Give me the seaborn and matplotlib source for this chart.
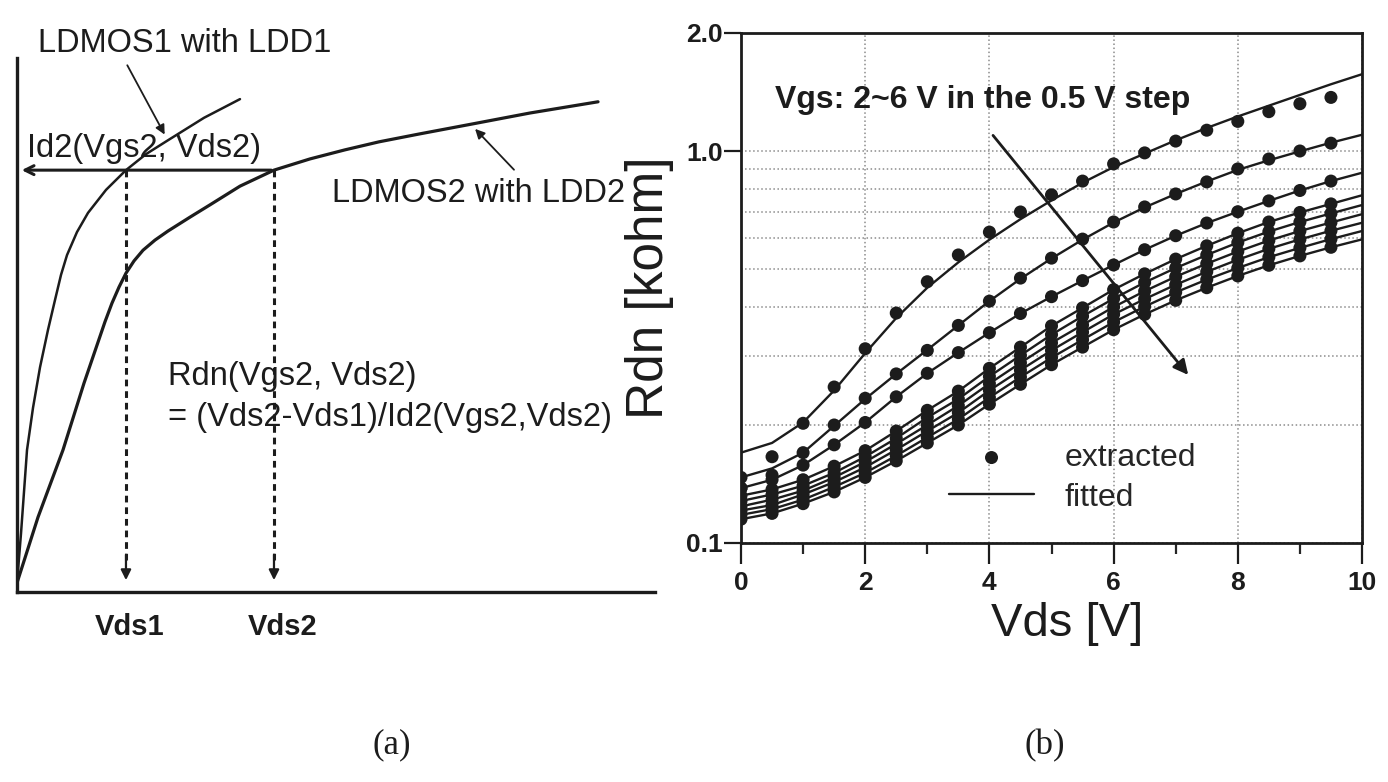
import matplotlib
matplotlib.use("Agg")
import matplotlib.pyplot as plt
import seaborn as sns
import pandas as pd
from matplotlib.ticker import FixedLocator, NullFormatter

INK = "#1c1c1c"

# ---- (b) Rdn vs Vds, Vgs = 2 ... 6 V in 0.5 V steps ----
vgs_levels = ["2.0", "2.5", "3.0", "3.5", "4.0", "4.5", "5.0", "5.5", "6.0"]
vds_fit = [0.0, 0.5, 1.0, 1.5, 2.0, 2.5, 3.0, 3.5, 4.0, 4.5, 5.0,
           5.5, 6.0, 6.5, 7.0, 7.5, 8.0, 8.5, 9.0, 9.5, 10.0]
vds_dots = [0.0, 0.5, 1.0, 1.5, 2.0, 2.5, 3.0, 3.5, 4.0, 4.5,
            5.0, 5.5, 6.0, 6.5, 7.0, 7.5, 8.0, 8.5, 9.0, 9.5]

# fitted curves [kohm]
fit_20 = [0.170, 0.180, 0.203, 0.245, 0.305, 0.375, 0.448, 0.520, 0.594, 0.670, 0.748,
          0.830, 0.910, 0.985, 1.065, 1.145, 1.225, 1.305, 1.390, 1.480, 1.570]
fit_25 = [0.147, 0.155, 0.170, 0.199, 0.233, 0.270, 0.311, 0.359, 0.414, 0.472, 0.532,
          0.594, 0.657, 0.718, 0.777, 0.836, 0.895, 0.947, 0.998, 1.050, 1.100]
fit_30 = [0.138, 0.145, 0.158, 0.178, 0.203, 0.236, 0.271, 0.306, 0.344, 0.385, 0.425,
          0.467, 0.512, 0.560, 0.608, 0.655, 0.700, 0.746, 0.793, 0.838, 0.880]
fit_35 = [0.132, 0.137, 0.145, 0.157, 0.172, 0.193, 0.218, 0.244, 0.279, 0.316, 0.358,
          0.398, 0.443, 0.486, 0.530, 0.573, 0.617, 0.659, 0.697, 0.733, 0.771]
fit_40 = [0.128, 0.133, 0.140, 0.151, 0.166, 0.185, 0.209, 0.233, 0.266, 0.301, 0.340,
          0.379, 0.420, 0.462, 0.503, 0.543, 0.584, 0.623, 0.659, 0.693, 0.728]
fit_45 = [0.124, 0.129, 0.136, 0.147, 0.161, 0.179, 0.200, 0.224, 0.255, 0.288, 0.324,
          0.360, 0.400, 0.439, 0.478, 0.516, 0.554, 0.591, 0.625, 0.657, 0.690]
fit_50 = [0.121, 0.125, 0.133, 0.143, 0.156, 0.173, 0.193, 0.215, 0.245, 0.276, 0.310,
          0.345, 0.383, 0.419, 0.456, 0.492, 0.528, 0.563, 0.595, 0.626, 0.656]
fit_55 = [0.118, 0.122, 0.129, 0.139, 0.151, 0.167, 0.186, 0.207, 0.235, 0.265, 0.297,
          0.330, 0.366, 0.401, 0.436, 0.470, 0.503, 0.536, 0.566, 0.596, 0.625]
fit_60 = [0.115, 0.119, 0.126, 0.135, 0.147, 0.162, 0.180, 0.200, 0.226, 0.254, 0.285,
          0.316, 0.350, 0.383, 0.416, 0.448, 0.480, 0.511, 0.540, 0.568, 0.595]

# extracted points (lower curves sit on their fits)
dots_20 = [0.147, 0.166, 0.202, 0.250, 0.313, 0.386, 0.464, 0.543, 0.621, 0.699,
           0.773, 0.838, 0.927, 0.989, 1.060, 1.130, 1.190, 1.260, 1.320, 1.370]
dots_25 = [0.138, 0.149, 0.170, 0.200, 0.234, 0.270, 0.310, 0.359, 0.414, 0.474,
           0.533, 0.596, 0.659, 0.720, 0.777, 0.834, 0.900, 0.954, 1.000, 1.047]

fits = [fit_20, fit_25, fit_30, fit_35, fit_40, fit_45, fit_50, fit_55, fit_60]
dots = [dots_20, dots_25] + [f[:len(vds_dots)] for f in fits[2:]]

fit_rows, dot_rows = [], []
for vgs, f, d in zip(vgs_levels, fits, dots):
    fit_rows += [(vgs, x, y) for x, y in zip(vds_fit, f)]
    dot_rows += [(vgs, x, y) for x, y in zip(vds_dots, d)]
df_fit = pd.DataFrame(fit_rows, columns=["Vgs", "Vds", "Rdn"])
df_dots = pd.DataFrame(dot_rows, columns=["Vgs", "Vds", "Rdn"])

# ---- (a) schematic Id-Vds of two LDMOS devices (arbitrary units) ----
ldmos1_vds = [0.0, 0.063, 0.157, 0.251, 0.361, 0.486, 0.596, 0.690, 0.784, 0.940,
              1.113, 1.395, 1.708, 2.022, 2.367, 2.931, 3.495]
ldmos1_id = [0.17, 1.10, 2.66, 3.45, 4.21, 4.91, 5.47, 5.94, 6.31, 6.74,
             7.10, 7.53, 7.90, 8.20, 8.46, 8.88, 9.23]
ldmos2_vds = [0.0, 0.329, 0.721, 1.050, 1.379, 1.489, 1.599, 1.708, 1.834, 1.975,
              2.163, 2.367, 2.712, 3.025, 3.495, 4.028, 4.592, 5.141, 5.674, 6.317,
              7.116, 8.041, 9.107]
ldmos2_id = [0.17, 1.40, 2.66, 3.91, 5.06, 5.41, 5.71, 5.97, 6.20, 6.40,
             6.59, 6.76, 7.02, 7.25, 7.60, 7.90, 8.11, 8.28, 8.43, 8.58,
             8.76, 8.97, 9.18]
vds1, vds2, id2 = 1.708, 4.028, 7.9

sns.set_style("ticks")
plt.rcParams["font.family"] = ["Liberation Sans", "DejaVu Sans"]

fig = plt.figure(figsize=(13.88, 7.82), dpi=100)

# ================= panel (a) =================
axa = fig.add_axes([17 / 1388, 1 - 592 / 782, 638 / 1388, 534 / 782])
sns.lineplot(x=ldmos1_vds, y=ldmos1_id, ax=axa, color=INK, lw=1.8, sort=False)
sns.lineplot(x=ldmos2_vds, y=ldmos2_id, ax=axa, color=INK, lw=2.3, sort=False)
axa.set_xlim(0, 10)
axa.set_ylim(0, 10)
axa.set_xticks([])
axa.set_yticks([])
for s in ["top", "right"]:
    axa.spines[s].set_visible(False)
for s in ["left", "bottom"]:
    axa.spines[s].set_linewidth(2.4)
    axa.spines[s].set_color(INK)

# Id2 level and projections onto the Vds axis
axa.annotate("", xy=(0.03, id2), xytext=(vds2, id2),
             arrowprops=dict(arrowstyle="->", lw=2.2, color=INK, mutation_scale=16))
axa.vlines([vds1, vds2], 0.6, id2, colors=INK, linestyles=(0, (2.2, 1.6)), lw=2.2)
for v in [vds1, vds2]:
    axa.annotate("", xy=(v, 0.17), xytext=(v, 0.75),
                 arrowprops=dict(arrowstyle="-|>", lw=1.6, color=INK, mutation_scale=15))

lab_fs = 23.5
axa.text(0.33, 10.28, "LDMOS1 with LDD1", fontsize=lab_fs, color=INK, va="center")
axa.annotate("", xy=(2.335, 8.52), xytext=(1.708, 9.91),
             arrowprops=dict(arrowstyle="-|>", lw=1.3, color=INK, mutation_scale=14))
axa.text(0.16, 8.3, "Id2(Vgs2, Vds2)", fontsize=lab_fs, color=INK, va="center")
axa.text(4.94, 7.47, "LDMOS2 with LDD2", fontsize=lab_fs, color=INK, va="center")
axa.annotate("", xy=(7.15, 8.71), xytext=(7.82, 7.87),
             arrowprops=dict(arrowstyle="-|>", lw=1.3, color=INK, mutation_scale=14))
axa.text(2.37, 4.03, "Rdn(Vgs2, Vds2)", fontsize=lab_fs, color=INK, va="center")
axa.text(2.37, 3.26, "= (Vds2-Vds1)/Id2(Vgs2,Vds2)", fontsize=lab_fs, color=INK,
         va="center")
axa.text(1.76, -0.66, "Vds1", fontsize=21, fontweight="bold", color=INK,
         ha="center", va="center")
axa.text(4.17, -0.66, "Vds2", fontsize=21, fontweight="bold", color=INK,
         ha="center", va="center")

# ================= panel (b) =================
axb = fig.add_axes([741 / 1388, 1 - 543 / 782, 621 / 1388, 510 / 782])
pal = [INK] * len(vgs_levels)
sns.lineplot(data=df_fit, x="Vds", y="Rdn", hue="Vgs", palette=pal, legend=False,
             ax=axb, lw=1.7, estimator=None)
sns.scatterplot(data=df_dots, x="Vds", y="Rdn", hue="Vgs", palette=pal, legend=False,
                ax=axb, s=88, edgecolor="none", zorder=3)
axb.set_yscale("log")
axb.set_xlim(0, 10)
axb.set_ylim(0.1, 2.0)

axb.xaxis.set_major_locator(FixedLocator([0, 2, 4, 6, 8, 10]))
axb.xaxis.set_minor_locator(FixedLocator([1, 3, 5, 7, 9]))
axb.yaxis.set_major_locator(FixedLocator([0.1, 1.0, 2.0]))
axb.yaxis.set_minor_locator(FixedLocator([0.2, 0.3, 0.4, 0.5, 0.6, 0.7, 0.8, 0.9]))
axb.yaxis.set_minor_formatter(NullFormatter())
axb.set_yticklabels(["0.1", "1.0", "2.0"])
axb.tick_params(axis="x", which="major", direction="out", length=15, width=1.6,
                labelsize=19, pad=5, colors=INK)
axb.tick_params(axis="x", which="minor", direction="out", length=8, width=1.6)
axb.tick_params(axis="y", which="major", direction="out", length=12, width=1.6,
                labelsize=19, pad=1, colors=INK)
axb.tick_params(axis="y", which="minor", length=0)
for lab in axb.get_xticklabels() + axb.get_yticklabels():
    lab.set_fontweight("bold")
for s in axb.spines.values():
    s.set_linewidth(2.0)
    s.set_color(INK)

axb.grid(True, which="major", axis="x", ls=":", color="#8c8c8c", lw=1.1)
axb.grid(True, which="both", axis="y", ls=":", color="#8c8c8c", lw=1.1)

axb.set_xlabel("Vds [V]", fontsize=34, color=INK)
axb.set_ylabel("Rdn [kohm]", fontsize=37, color=INK)
axb.xaxis.set_label_coords(0.525, -0.115)
axb.yaxis.set_label_coords(-0.108, 0.5)

axb.text(0.55, 1.35, "Vgs: 2~6 V in the 0.5 V step", fontsize=23, fontweight="bold",
         color=INK, va="center")
axb.annotate("", xy=(7.23, 0.265), xytext=(4.03, 1.11),
             arrowprops=dict(arrowstyle="-|>", lw=2.0, color=INK, mutation_scale=22))

axb.legend([axb.collections[0], axb.lines[0]], ["extracted", "fitted"],
           loc="center left", bbox_to_anchor=(0.335, 0.128), frameon=False,
           fontsize=23, handlelength=2.66, handletextpad=0.95, labelspacing=0.3,
           borderpad=0, borderaxespad=0, scatterpoints=1)

fig.text(0.2824, 0.047, "(a)", family="Liberation Serif", fontsize=25,
         ha="center", va="center", color=INK)
fig.text(0.7529, 0.047, "(b)", family="Liberation Serif", fontsize=25,
         ha="center", va="center", color=INK)

fig.savefig("out.png", dpi=100, facecolor="white")
